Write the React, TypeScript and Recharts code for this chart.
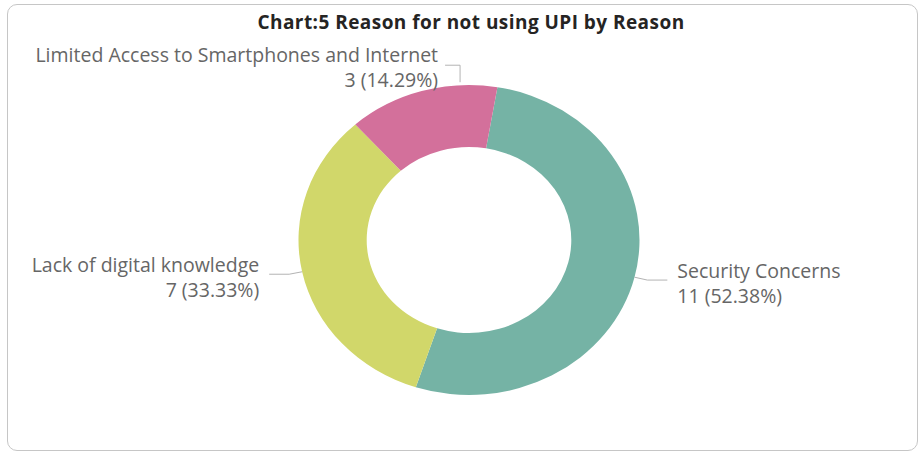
import React from 'react';
import { PieChart, Pie, Cell, Sector } from 'recharts';

const reasons = ['Security Concerns', 'Lack of digital knowledge', 'Limited Access to Smartphones and Internet'];
const counts = [11, 7, 3];
const colors = ['#75B3A5', '#D1D76A', '#D3709B'];

const data = reasons.map((name, i) => ({ name, value: counts[i] }));

const SX = 1.1; // the reference donut is a bit wider than tall
const RAD = Math.PI / 180;
const labelColor = '#666666';
const labelFont = '"Open Sans", "Noto Sans", sans-serif';

const pt = (cx: number, cy: number, r: number, deg: number) => ({
  x: cx + r * Math.cos(deg * RAD) * SX,
  y: cy - r * Math.sin(deg * RAD),
});

const renderShape = (props: any) => {
  const { cx, cy } = props;
  return (
    <g transform={`translate(${cx} ${cy}) scale(${SX} 1) translate(${-cx} ${-cy})`}>
      <Sector {...props} />
    </g>
  );
};

const renderLabel = (props: any) => {
  const { cx, cy, outerRadius, midAngle, startAngle, endAngle, name, value, percent } = props;
  const second = `${value} (${(percent * 100).toFixed(2)}%)`;
  const textProps = { fill: labelColor, fontSize: 19.5, fontFamily: labelFont };

  if (Math.sin(midAngle * RAD) > 0.85) {
    // slice near the top: leader goes up and then sideways
    const a = startAngle + 0.755 * (endAngle - startAngle);
    const p0 = pt(cx, cy, outerRadius, a);
    const elbowY = p0.y - 20;
    const left = Math.cos(midAngle * RAD) < 0;
    const x2 = p0.x + (left ? -15 : 15);
    const tx = x2 + (left ? -7 : 7);
    return (
      <g>
        <polyline points={`${p0.x},${p0.y - 3} ${p0.x},${elbowY} ${x2},${elbowY}`} fill="none" stroke="#b3b3b3" strokeWidth={1} />
        <text x={tx} y={elbowY - 11} textAnchor={left ? 'end' : 'start'} dominantBaseline="central" {...textProps}>{name}</text>
        <text x={tx} y={elbowY + 14} textAnchor={left ? 'end' : 'start'} dominantBaseline="central" {...textProps}>{second}</text>
      </g>
    );
  }

  const p0 = pt(cx, cy, outerRadius, midAngle);
  const p1 = pt(cx, cy, outerRadius + 12, midAngle);
  const right = Math.cos(midAngle * RAD) >= 0;
  const x2 = p1.x + (right ? 20 : -20);
  const tx = x2 + (right ? 10 : -10);
  return (
    <g>
      <polyline points={`${p0.x},${p0.y} ${p1.x},${p1.y} ${x2},${p1.y}`} fill="none" stroke="#b3b3b3" strokeWidth={1} />
      <text x={tx} y={p1.y - 10} textAnchor={right ? 'start' : 'end'} dominantBaseline="central" {...textProps}>{name}</text>
      <text x={tx} y={p1.y + 15} textAnchor={right ? 'start' : 'end'} dominantBaseline="central" {...textProps}>{second}</text>
    </g>
  );
};

export default function App() {
  return (
    <div style={{ position: 'fixed', left: 0, top: 0, width: 920, height: 453, background: '#fff' }}>
      <div
        style={{
          position: 'absolute',
          left: 7,
          top: 4,
          width: 911,
          height: 447,
          border: '1px solid #c6c6c6',
          borderRadius: 10,
          boxSizing: 'border-box',
        }}
      />
      <div
        style={{
          position: 'absolute',
          left: 0,
          top: 9,
          width: 942,
          textAlign: 'center',
          fontFamily: '"Open Sans", Roboto, sans-serif',
          fontWeight: 700,
          fontSize: 19,
          letterSpacing: 0.45,
          color: '#252423',
          lineHeight: '26px',
        }}
      >
        Chart:5 Reason for not using UPI by Reason
      </div>
      <PieChart
        width={920}
        height={453}
        margin={{ top: 0, right: 0, bottom: 0, left: 0 }}
        style={{ position: 'absolute', left: 0, top: 0 }}
      >
        <Pie
          data={data}
          dataKey="value"
          nameKey="name"
          cx={469}
          cy={240}
          outerRadius={155}
          innerRadius={93}
          startAngle={80.4}
          endAngle={-279.6}
          stroke="none"
          shape={renderShape}
          label={renderLabel}
          labelLine={false}
          isAnimationActive={false}
        >
          {data.map((d, i) => (
            <Cell key={d.name} fill={colors[i]} />
          ))}
        </Pie>
      </PieChart>
    </div>
  );
}
